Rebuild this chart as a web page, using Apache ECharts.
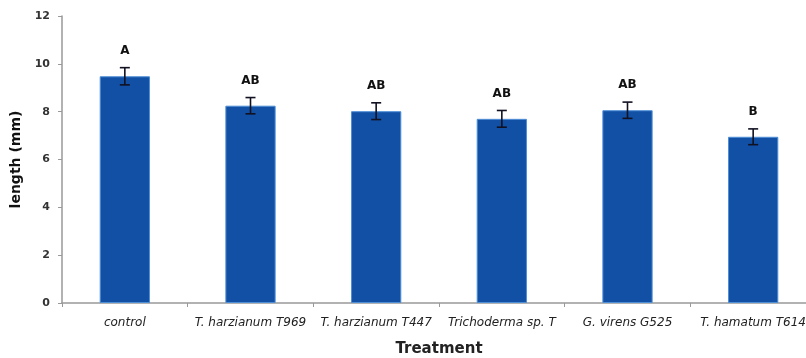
<!DOCTYPE html>
<html>
<head>
<meta charset="utf-8">
<script src="https://cdn.jsdelivr.net/npm/echarts@6/dist/echarts.min.js"></script>
<style>html,body{margin:0;padding:0;background:#fff;}#c{width:806px;height:358px;}</style>
</head>
<body>
<div id="c"></div>
<script>
var categories = ['control', 'T. harzianum T969', 'T. harzianum T447', 'Trichoderma sp. T', 'G. virens G525', 'T. hamatum T614'];
var values = [9.48, 8.25, 8.02, 7.7, 8.06, 6.95];
var errors = [0.36, 0.34, 0.35, 0.35, 0.34, 0.33];
var letters = ['A', 'AB', 'AB', 'AB', 'AB', 'B'];
var yTicks = [0, 2, 4, 6, 8, 10, 12];

var chart = echarts.init(document.getElementById('c'));
var errData = values.map(function (v, i) { return [i, v, errors[i], letters[i]]; });

chart.setOption({
  animation: false,
  grid: { left: 62, top: 16, width: 754, height: 287, containLabel: false, outerBoundsMode: 'none' },
  xAxis: {
    type: 'category',
    data: categories,
    name: 'Treatment',
    nameLocation: 'middle',
    nameGap: 39,
    nameTextStyle: { fontFamily: 'DejaVu Sans', fontWeight: 'bold', fontSize: 15, color: '#222' },
    axisLine: { lineStyle: { color: '#999', width: 1.5 } },
    axisTick: { show: true, alignWithLabel: false, length: 4, lineStyle: { color: '#999' } },
    axisLabel: { fontFamily: 'DejaVu Sans', fontStyle: 'italic', fontSize: 12, color: '#222', margin: 14, interval: 0 }
  },
  yAxis: {
    type: 'value',
    min: 0, max: 12, interval: 2,
    name: 'length (mm)',
    nameLocation: 'middle',
    nameGap: 37,
    nameRotate: 90,
    nameTextStyle: { fontFamily: 'DejaVu Sans', fontWeight: 'bold', fontSize: 14, color: '#111' },
    axisLine: { show: true, lineStyle: { color: '#999', width: 1.5 } },
    axisTick: { show: true, length: 4, lineStyle: { color: '#999' } },
    splitLine: { show: false },
    axisLabel: { fontFamily: 'DejaVu Sans', fontWeight: 'bold', fontSize: 11, color: '#333', margin: 12,
      formatter: function (v) { return yTicks.indexOf(v) >= 0 ? String(v) : ''; } }
  },
  series: [
    {
      type: 'bar',
      data: values,
      barWidth: '40%',
      itemStyle: { color: '#1250a6', borderColor: '#4f8fd6', borderWidth: 1 }
    },
    {
      type: 'custom',
      data: errData,
      z: 10,
      renderItem: function (params, api) {
        var i = api.value(0), v = api.value(1), e = api.value(2);
        var top = api.coord([i, v + e]);
        var bot = api.coord([i, v - e]);
        var hw = 5;
        var style = { stroke: '#111122', lineWidth: 1.6 };
        return {
          type: 'group',
          children: [
            { type: 'line', shape: { x1: top[0], y1: top[1], x2: bot[0], y2: bot[1] }, style: style },
            { type: 'line', shape: { x1: top[0] - hw, y1: top[1], x2: top[0] + hw, y2: top[1] }, style: style },
            { type: 'line', shape: { x1: bot[0] - hw, y1: bot[1], x2: bot[0] + hw, y2: bot[1] }, style: style },
            { type: 'text', style: { x: top[0], y: top[1] - 17, text: letters[params.dataIndex],
              textAlign: 'center', textVerticalAlign: 'middle',
              font: 'bold 12px "DejaVu Sans"', fill: '#111' } }
          ]
        };
      }
    }
  ]
});
</script>
</body>
</html>
